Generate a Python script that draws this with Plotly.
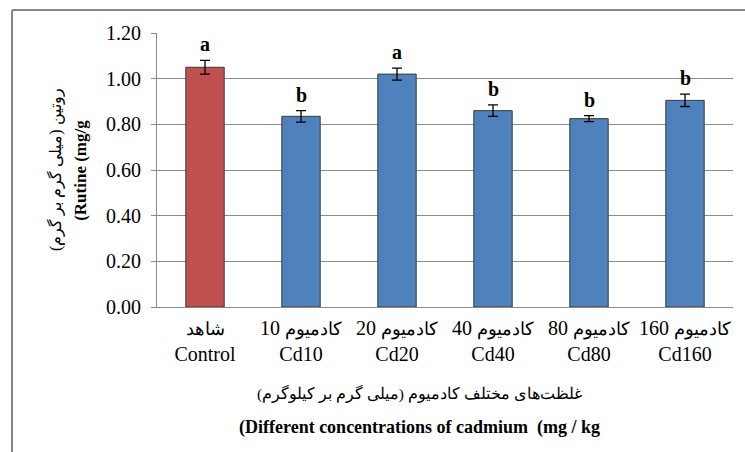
import plotly.graph_objects as go

categories_fa = ["شاهد", "کادمیوم 10", "کادمیوم 20", "کادمیوم 40", "کادمیوم 80", "کادمیوم 160"]
categories_en = ["Control", "Cd10", "Cd20", "Cd40", "Cd80", "Cd160"]
values = [1.05, 0.835, 1.02, 0.86, 0.825, 0.905]
errors = [0.03, 0.025, 0.026, 0.025, 0.013, 0.027]
letters = ["a", "b", "a", "b", "b", "b"]
bar_colors = ["#C0504D", "#4F81BD", "#4F81BD", "#4F81BD", "#4F81BD", "#4F81BD"]
y_ticks = [0.0, 0.2, 0.4, 0.6, 0.8, 1.0, 1.2]

RLE, PDF = "\u202b", "\u202c"


def fa_label(s):
    parts = s.split(" ")
    word = f'<span style="font-size:17.5px">{parts[0]}</span>'
    rest = (" " + " ".join(parts[1:])) if len(parts) > 1 else ""
    return f"{word}{rest}"


ticktext = [f"{fa_label(fa)}<br>{en}" for fa, en in zip(categories_fa, categories_en)]

SERIF = "Liberation Serif, serif"
GRID = "#8a8a8a"

fig = go.Figure()
fig.add_trace(go.Bar(
    x=categories_en, y=values, width=0.4,
    marker=dict(color=bar_colors, line=dict(color="#3a3a3a", width=1)),
    error_y=dict(type="data", array=errors, color="#000000", thickness=1.3, width=5),
    showlegend=False,
))

for c, v, e, l in zip(categories_en, values, errors, letters):
    fig.add_annotation(x=c, y=v + e, text=f"<b>{l}</b>", showarrow=False,
                       yanchor="bottom", yshift=3,
                       font=dict(family=SERIF, size=20, color="#000000"))

# axis titles (two lines each, Persian + English)
fig.add_annotation(xref="paper", yref="paper", x=-0.177, y=0.5, xanchor="center", yanchor="middle",
                   text=f"{RLE}روتین (میلی گرم بر گرم){PDF}", showarrow=False, textangle=-90,
                   font=dict(family=SERIF, size=16, color="#000000"))
fig.add_annotation(xref="paper", yref="paper", x=-0.134, y=0.5, xanchor="center", yanchor="middle",
                   text="<b>(Rutine (mg/g</b>", showarrow=False, textangle=-90,
                   font=dict(family=SERIF, size=17, color="#000000"))
fig.add_annotation(xref="paper", yref="paper", x=0.455, y=-0.314, xanchor="center", yanchor="middle",
                   text=f"{RLE}غلظت‌های مختلف کادمیوم (میلی گرم بر کیلوگرم){PDF}", showarrow=False,
                   font=dict(family=SERIF, size=15.5, color="#000000"))
fig.add_annotation(xref="paper", yref="paper", x=0.455, y=-0.438, xanchor="center", yanchor="middle",
                   text="<b>(Different concentrations of cadmium  (mg / kg</b>", showarrow=False,
                   font=dict(family=SERIF, size=18, color="#000000"))

# outer frame (left + top lines)
fig.add_shape(type="line", xref="paper", yref="paper", x0=-0.2517, x1=-0.2517, y0=-0.6, y1=1.0839,
              line=dict(color="#868686", width=2))
fig.add_shape(type="line", xref="paper", yref="paper", x0=-0.2517, x1=1.03, y0=1.0839, y1=1.0839,
              line=dict(color="#868686", width=2))

fig.update_layout(
    width=745, height=452,
    margin=dict(l=157, r=12, t=33, b=145),
    paper_bgcolor="white", plot_bgcolor="white",
    bargap=0.6,
    font=dict(family=SERIF, color="#000000"),
    xaxis=dict(
        tickmode="array", tickvals=categories_en, ticktext=ticktext,
        tickfont=dict(family=SERIF, size=20, color="#000000"),
        tickangle=0, automargin=False,
        showline=True, linecolor=GRID, linewidth=1,
        ticks="", showgrid=False, ticklabelstandoff=3,
    ),
    yaxis=dict(
        range=[0, 1.2], tickvals=y_ticks, ticktext=[f"{t:.2f}" for t in y_ticks],
        tickfont=dict(family=SERIF, size=20, color="#000000"),
        automargin=False,
        showline=True, linecolor=GRID, linewidth=1,
        ticks="outside", ticklen=5, tickcolor=GRID, ticklabelstandoff=6,
        showgrid=True, gridcolor=GRID, gridwidth=1, zeroline=False,
    ),
)

fig.write_html("out.html")
